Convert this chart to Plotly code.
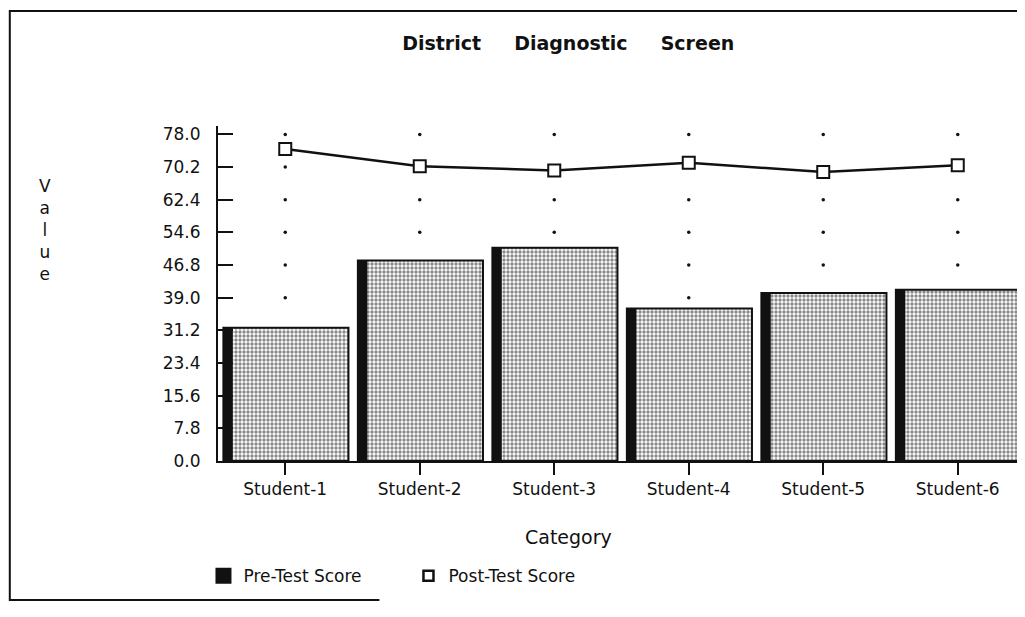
import plotly.graph_objects as go

# values
students = ["Student-1", "Student-2", "Student-3", "Student-4", "Student-5", "Student-6"]
pre_test = [31.8, 47.9, 50.9, 36.4, 40.1, 40.9]
post_test = [74.5, 70.4, 69.4, 71.2, 69.0, 70.6]
y_ticks = [0.0, 7.8, 15.6, 23.4, 31.2, 39.0, 46.8, 54.6, 62.4, 70.2, 78.0]

FONT = "DejaVu Sans, Liberation Sans, Arial, sans-serif"
INK = "#111111"
SP = "\u00a0" * 5

# dotted guide marks at each tick value, only where no bar covers them
dot_x, dot_y = [], []
for s, v in zip(students, pre_test):
    for t in y_ticks:
        if t > v:
            dot_x.append(s)
            dot_y.append(t)

fig = go.Figure()

fig.add_trace(go.Scatter(
    x=dot_x, y=dot_y, mode="markers", showlegend=False, hoverinfo="skip",
    marker=dict(color=INK, size=3.5),
))

fig.add_trace(go.Bar(
    x=students, y=pre_test, name="Pre-Test Score", showlegend=False,
    width=0.93, offset=-0.46,
    marker=dict(
        color="white",
        line=dict(color=INK, width=2),
        pattern=dict(shape=".", fgcolor="#111111", bgcolor="white",
                     size=4, solidity=0.55),
    ),
))
# dark left edge of each bar
fig.add_trace(go.Bar(
    x=students, y=pre_test, showlegend=False, hoverinfo="skip",
    width=0.07, offset=-0.46, marker=dict(color=INK, line=dict(width=0)),
))

fig.add_trace(go.Scatter(
    x=students, y=post_test, mode="lines+markers", name="Post-Test Score",
    showlegend=False,
    line=dict(color=INK, width=2.5),
    marker=dict(symbol="square", size=12, color="white",
                line=dict(color=INK, width=2)),
))

# legend-only entries
fig.add_trace(go.Scatter(
    x=[None], y=[None], mode="markers", name="Pre-Test Score",
    marker=dict(symbol="square", size=21, color=INK),
))
fig.add_trace(go.Scatter(
    x=[None], y=[None], mode="markers", name="Post-Test Score",
    marker=dict(symbol="square", size=10, color="white",
                line=dict(color=INK, width=2.5)),
))

fig.update_layout(
    width=1025, height=617,
    margin=dict(l=210, r=8, t=118, b=164),
    plot_bgcolor="white", paper_bgcolor="white",
    font=dict(family=FONT, color=INK, size=17),
    barmode="overlay",
    title=dict(
        text=f"<b>District{SP}Diagnostic{SP}Screen</b>",
        xref="paper", x=0.434, xanchor="center",
        yref="container", y=0.943, yanchor="middle",
        font=dict(size=19, family=FONT, color=INK),
    ),
    xaxis=dict(
        range=[-0.5, 5.5], showgrid=False, zeroline=False,
        showline=True, linecolor=INK, linewidth=2,
        ticks="outside", ticklen=12, tickwidth=2, tickcolor=INK,
        tickfont=dict(size=17),
    ),
    yaxis=dict(
        range=[0, 80], tickvals=y_ticks, tickformat=".1f",
        showgrid=False, zeroline=False,
        showline=True, linecolor=INK, linewidth=2,
        ticks="inside", ticklen=15, tickwidth=2, tickcolor=INK,
        ticklabelstandoff=12, tickfont=dict(size=17),
    ),
    yaxis2=dict(
        range=[0, 80], tickvals=y_ticks, overlaying="y", side="left",
        showgrid=False, zeroline=False, showline=False,
        ticks="outside", ticklen=5, tickwidth=2, tickcolor=INK,
        showticklabels=False,
    ),
    legend=dict(
        orientation="h", x=-0.018, y=-0.29, xanchor="left", yanchor="top",
        font=dict(size=17), itemsizing="trace", bgcolor="rgba(0,0,0,0)",
        entrywidth=160,
    ),
    annotations=[
        dict(text="Category", xref="paper", yref="paper", x=0.434, y=-0.228,
             showarrow=False, font=dict(size=19), xanchor="center",
             yanchor="middle"),
        dict(text="V<br>a<br>l<br>u<br>e", xref="paper", yref="paper",
             x=-0.214, y=0.69, showarrow=False, font=dict(size=17),
             xanchor="center", yanchor="middle", align="center"),
    ],
    shapes=[
        # scanned page frame
        dict(type="path", xref="paper", yref="paper",
             path="M 1.0,1.343 L -0.258,1.343 L -0.258,-0.415 L 0.2,-0.415",
             line=dict(color=INK, width=2)),
    ],
)

fig.write_html("out.html")
